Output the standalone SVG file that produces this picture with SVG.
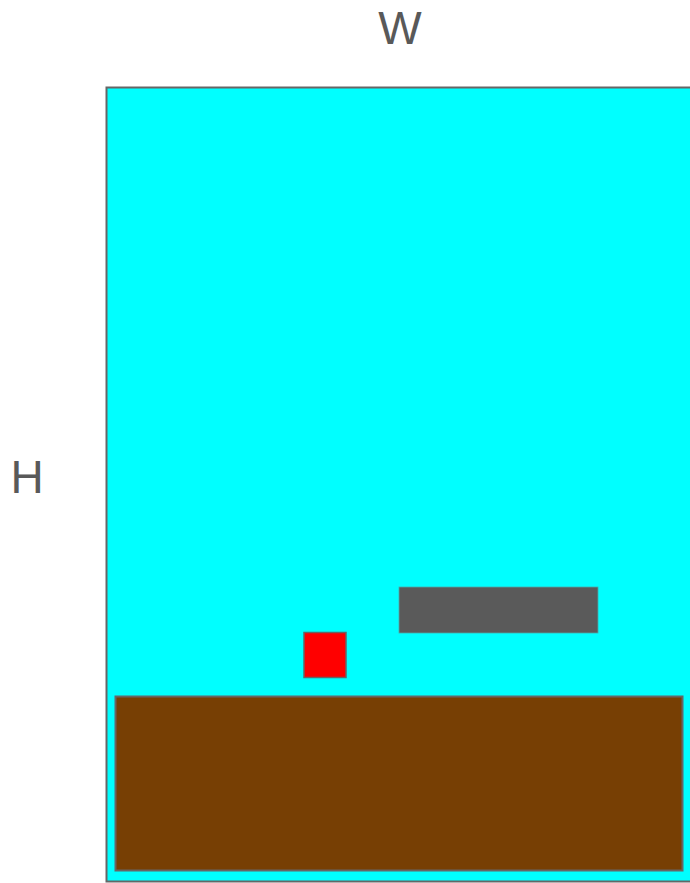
<svg xmlns="http://www.w3.org/2000/svg" width="690" height="883" viewBox="0 0 690 883">
<style>
.lbl{font-family:"Liberation Sans",Arial,sans-serif;font-size:46px;fill:#595959;text-anchor:middle}
</style>
<rect width="690" height="883" fill="#ffffff"/>
<g id="frame"><rect x="106.5" y="87.5" width="600" height="794" fill="#00ffff" stroke="#666666" stroke-width="2"/></g>
<g id="ground"><rect x="115.5" y="696.5" width="567" height="174" fill="#773f04" stroke="#666666" stroke-width="2"/></g>
<g id="platform"><rect x="399" y="587" width="199" height="46" fill="#5a5a5a" stroke="#4aa9a9" stroke-width="0.8"/></g>
<g id="player"><rect x="304" y="632.5" width="42" height="45" fill="#ff0000" stroke="#666666" stroke-width="1.5"/></g>
<g id="labels">
<text class="lbl" x="400" y="44">W</text>
<text class="lbl" x="27" y="493">H</text>
</g>
</svg>
